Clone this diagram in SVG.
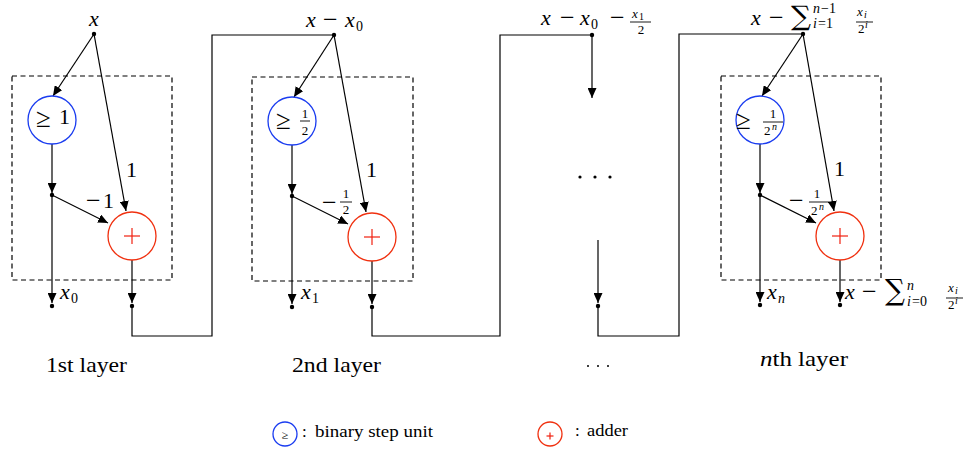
<svg xmlns="http://www.w3.org/2000/svg" width="966" height="450" viewBox="0 0 966 450" font-family="'Liberation Serif', serif">
<defs>
<marker id="ah" viewBox="0 0 10 10" refX="10" refY="5" markerWidth="10" markerHeight="9" markerUnits="userSpaceOnUse" orient="auto" preserveAspectRatio="none">
<path d="M0,0 L10,5 L0,10 Z" fill="#000"/>
</marker>
</defs>
<style>
text{fill:#000}
.m{font-style:italic}
.t{font-size:22px}
.mi{font-size:26px}
.s{font-size:14px}
.f{font-size:13px}
.xs{font-size:10px}
.ge{font-size:27px}
.box{fill:none;stroke:#000;stroke-width:1.2;stroke-dasharray:5,3.5}
.step{fill:#fff;stroke:#1a3cf0;stroke-width:1.3}
.add{fill:#fff;stroke:#f0300f;stroke-width:1.3}
.e{fill:none;stroke:#000;stroke-width:1.2}
.a{fill:none;stroke:#000;stroke-width:1.2;marker-end:url(#ah)}
.bar{stroke:#000;stroke-width:0.9}
.plus{stroke:#f02010;stroke-width:1.2}
</style>
<rect width="966" height="450" fill="#fff"/>

<g id="connectors">
<line class="a" x1="94" y1="34" x2="53" y2="96"/>
<line class="a" x1="94" y1="34" x2="126" y2="211"/>
<line class="a" x1="52" y1="144" x2="52" y2="193"/>
<line class="a" x1="52" y1="195" x2="108" y2="223"/>
<line class="a" x1="52" y1="195" x2="52" y2="303"/>
<line class="a" x1="132" y1="260" x2="132" y2="303"/>
<polyline class="e" points="132,306 132,336 212,336 212,35 334,35"/>
<line class="a" x1="334" y1="35" x2="294" y2="97"/>
<line class="a" x1="334" y1="35" x2="366" y2="212"/>
<line class="a" x1="292" y1="145" x2="292" y2="194"/>
<line class="a" x1="292" y1="196" x2="348" y2="224"/>
<line class="a" x1="292" y1="196" x2="292" y2="304"/>
<line class="a" x1="372" y1="261" x2="372" y2="304"/>
<polyline class="e" points="372,307 372,336 500,336 500,35 592,35"/>
<line class="a" x1="592" y1="35" x2="592" y2="98"/>
<line class="a" x1="598" y1="240" x2="598" y2="303"/>
<polyline class="e" points="598,306 598,336 679,336 679,34 803,34"/>
<line class="a" x1="803" y1="34" x2="762" y2="96"/>
<line class="a" x1="803" y1="34" x2="834" y2="211"/>
<line class="a" x1="760" y1="144" x2="760" y2="193"/>
<line class="a" x1="760" y1="195" x2="816" y2="223"/>
<line class="a" x1="760" y1="195" x2="760" y2="302"/>
<line class="a" x1="840" y1="260" x2="840" y2="302"/>
</g>

<g id="dots" fill="#000">
<circle cx="94" cy="34" r="2.2"/><circle cx="52" cy="195" r="2.2"/><circle cx="52" cy="306" r="2.2"/><circle cx="132" cy="306" r="2.2"/>
<circle cx="334" cy="35" r="2.2"/><circle cx="292" cy="196" r="2.2"/><circle cx="292" cy="307" r="2.2"/><circle cx="372" cy="307" r="2.2"/>
<circle cx="592" cy="35" r="2.2"/><circle cx="598" cy="306" r="2.2"/>
<circle cx="803" cy="34" r="2.2"/><circle cx="760" cy="195" r="2.2"/><circle cx="760" cy="305" r="2.2"/><circle cx="840" cy="305" r="2.2"/>
</g>

<g id="layer1">
<rect class="box" x="12" y="76" width="160" height="204"/>
<g id="step1"><circle class="step" cx="52" cy="120" r="24"/>
<text class="ge" x="36" y="127">≥</text><text class="t" x="59" y="124">1</text></g>
<g id="add1"><circle class="add" cx="132" cy="236" r="24"/>
<line class="plus" x1="124" y1="236" x2="140" y2="236"/><line class="plus" x1="132" y1="228" x2="132" y2="244"/></g>
<text class="t" x="126" y="177">1</text>
<text class="mi" x="86" y="209">−</text><text class="t" x="103" y="208">1</text>
<text class="m t" x="89" y="26">x</text>
<text class="m t" x="60" y="299">x</text><text class="s" x="71" y="303">0</text>
<text class="t" x="46" y="372" textLength="81" lengthAdjust="spacingAndGlyphs">1st layer</text>
</g>

<g id="layer2">
<rect class="box" x="252" y="77" width="161" height="204"/>
<g id="step2"><circle class="step" cx="292" cy="121" r="24"/>
<text class="ge" x="276" y="129">≥</text>
<text class="f" x="305" y="118" text-anchor="middle">1</text><line class="bar" x1="300" y1="121" x2="310" y2="121"/><text class="f" x="305" y="135" text-anchor="middle">2</text></g>
<g id="add2"><circle class="add" cx="372" cy="237" r="24"/>
<line class="plus" x1="364" y1="237" x2="380" y2="237"/><line class="plus" x1="372" y1="229" x2="372" y2="245"/></g>
<text class="t" x="366" y="177">1</text>
<text class="mi" x="322" y="211">−</text>
<text class="f" x="346" y="198" text-anchor="middle">1</text><line class="bar" x1="340" y1="202" x2="352" y2="202"/><text class="f" x="346" y="214" text-anchor="middle">2</text>
<text class="m t" x="306" y="27">x</text><text class="mi" x="323" y="28">−</text><text class="m t" x="345" y="27">x</text><text class="s" x="356" y="31">0</text>
<text class="m t" x="301" y="299">x</text><text class="s" x="312" y="303">1</text>
<text class="t" x="292" y="372" textLength="89" lengthAdjust="spacingAndGlyphs">2nd layer</text>
</g>

<g id="middle">
<text class="m t" x="541" y="25">x</text><text class="mi" x="560" y="26">−</text><text class="m t" x="580" y="25">x</text><text class="s" x="591" y="29">0</text><text class="mi" x="610" y="26">−</text>
<text class="m f" x="632" y="18">x</text><text class="xs" x="639" y="20">1</text>
<line class="bar" x1="630" y1="22" x2="651" y2="22"/>
<text class="f" x="641" y="34" text-anchor="middle">2</text>
<g fill="#000"><circle cx="580" cy="177" r="1.6"/><circle cx="595" cy="177" r="1.6"/><circle cx="610" cy="177" r="1.6"/></g>
<g fill="#000"><circle cx="588" cy="366" r="1"/><circle cx="598" cy="366" r="1"/><circle cx="608" cy="366" r="1"/></g>
</g>

<g id="layern">
<rect class="box" x="721" y="76" width="160" height="204"/>
<g id="stepn"><circle class="step" cx="760" cy="120" r="24"/>
<text class="ge" x="736" y="129">≥</text>
<text class="f" x="773" y="118" text-anchor="middle">1</text><line class="bar" x1="763" y1="122" x2="783" y2="122"/>
<text class="f" x="764" y="135">2</text><text class="m xs" x="772" y="130">n</text></g>
<g id="addn"><circle class="add" cx="840" cy="236" r="24"/>
<line class="plus" x1="832" y1="236" x2="848" y2="236"/><line class="plus" x1="840" y1="228" x2="840" y2="244"/></g>
<text class="t" x="834" y="176">1</text>
<text class="mi" x="789" y="209">−</text>
<text class="f" x="817" y="198" text-anchor="middle">1</text><line class="bar" x1="809" y1="202" x2="830" y2="202"/>
<text class="f" x="811" y="215">2</text><text class="m xs" x="819" y="210">n</text>
<text class="m t" x="751" y="25">x</text><text class="mi" x="769" y="26">−</text>
<text x="791" y="25" font-size="27" font-family="'DejaVu Serif', serif" textLength="20" lengthAdjust="spacingAndGlyphs">∑</text>
<text class="m s" x="813" y="13">n</text><text class="s" x="821" y="13">−1</text>
<text class="m s" x="813" y="28">i</text><text class="s" x="818" y="28">=1</text>
<text class="m f" x="857" y="16">x</text><text class="m xs" x="864" y="18">i</text>
<line class="bar" x1="856" y1="22" x2="873" y2="22"/>
<text class="f" x="858" y="33">2</text><text class="m xs" x="865" y="28">i</text>
<text class="m t" x="767" y="299">x</text><text class="m s" x="778" y="303">n</text>
<text class="m t" x="845" y="299">x</text><text class="mi" x="862" y="300">−</text>
<text x="885" y="300" font-size="29" font-family="'DejaVu Serif', serif" textLength="20" lengthAdjust="spacingAndGlyphs">∑</text>
<text class="m s" x="907" y="290">n</text>
<text class="m s" x="907" y="306">i</text><text class="s" x="912" y="306">=0</text>
<text class="m f" x="948" y="292">x</text><text class="m xs" x="955" y="294">i</text>
<line class="bar" x1="946" y1="298" x2="963" y2="298"/>
<text class="f" x="948" y="309">2</text><text class="m xs" x="955" y="304">i</text>
<text x="760" y="366" textLength="88" lengthAdjust="spacingAndGlyphs"><tspan class="m t">n</tspan><tspan class="t">th layer</tspan></text>
</g>

<g id="legend">
<g id="legend-step"><circle class="step" cx="285" cy="434" r="12"/><text x="285" y="439" text-anchor="middle" font-size="12">≥</text></g>
<text x="302" y="437" font-size="17">:</text>
<text x="315" y="437" font-size="17" textLength="118" lengthAdjust="spacingAndGlyphs">binary step unit</text>
<g id="legend-add"><circle class="add" cx="550" cy="434" r="12"/>
<line class="plus" x1="546.5" y1="436" x2="553.5" y2="436" stroke-width="0.9"/><line class="plus" x1="550" y1="432.5" x2="550" y2="439.5" stroke-width="0.9"/></g>
<text x="575" y="436" font-size="17">:</text>
<text x="587" y="436" font-size="17" textLength="41" lengthAdjust="spacingAndGlyphs">adder</text>
</g>
</svg>
